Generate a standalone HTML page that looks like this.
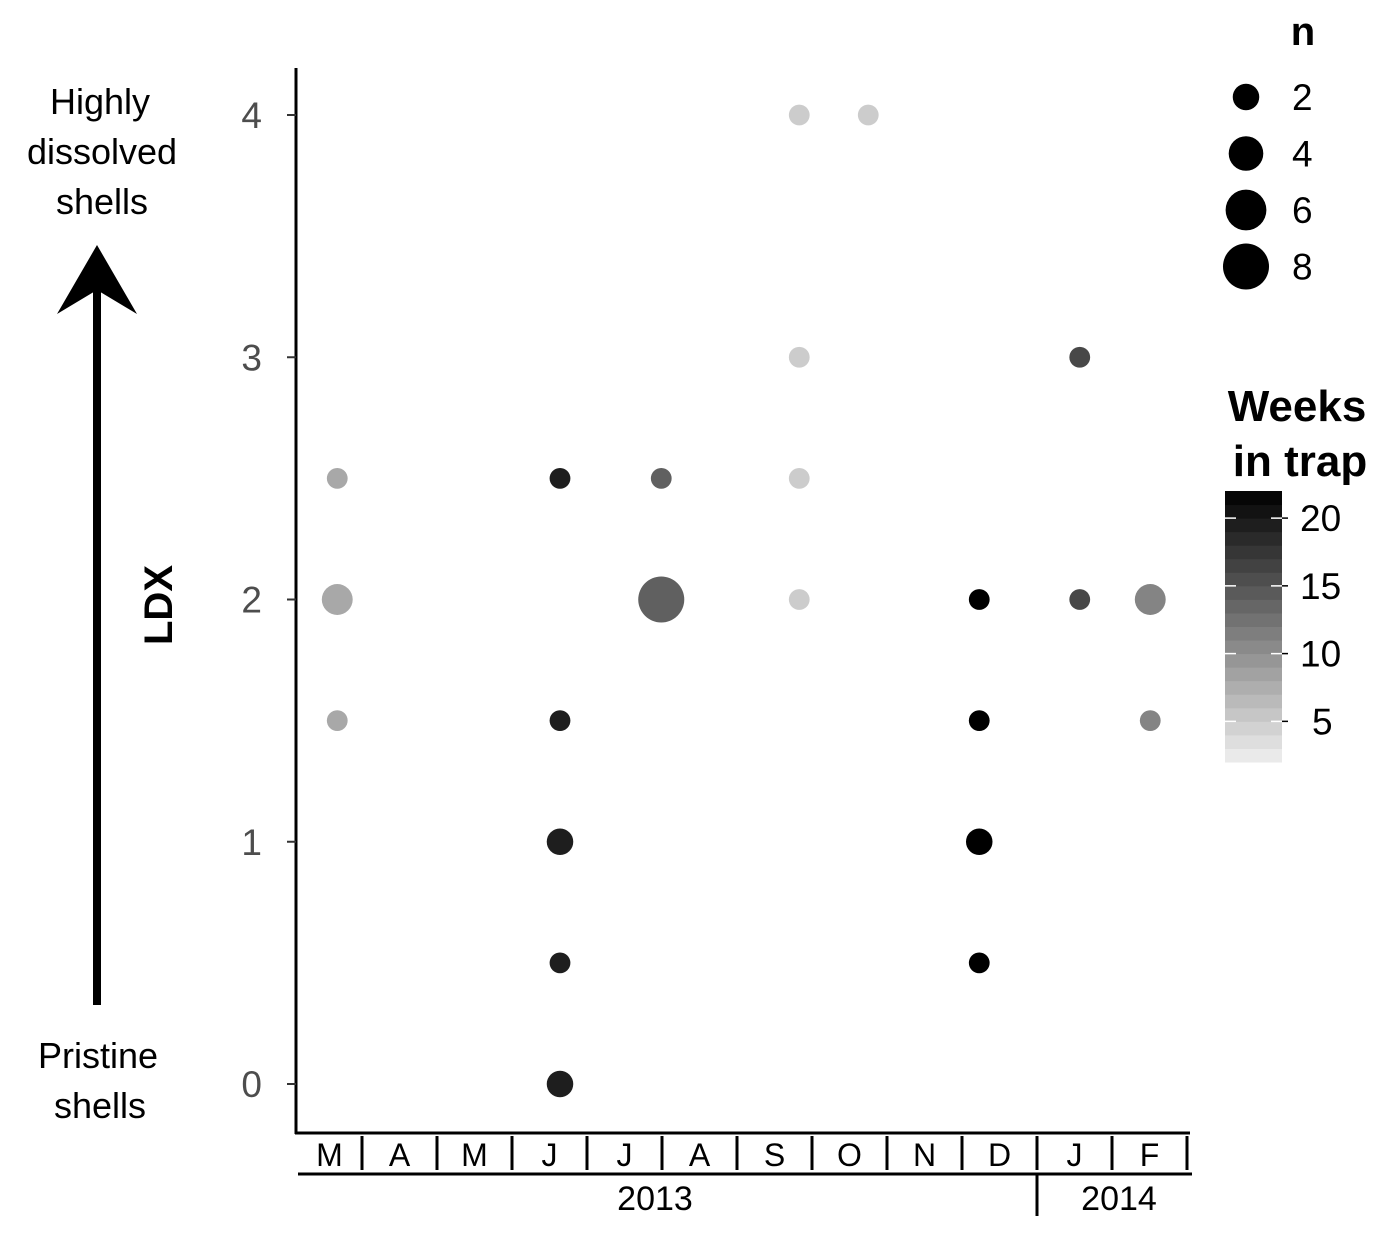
<!DOCTYPE html>
<html><head><meta charset="utf-8"><style>
body{margin:0;background:#fff}
svg{display:block}
text{font-family:"Liberation Sans",sans-serif}
</style></head><body>
<svg id="chart" width="1391" height="1244" viewBox="0 0 1391 1244" xmlns="http://www.w3.org/2000/svg">
<defs><marker id="ah" markerWidth="10" markerHeight="10" refX="5" refY="5" orient="auto"></marker></defs>
<g id="left-annot">
<text x="100" y="114" font-size="36" text-anchor="middle">Highly</text>
<text x="102" y="164" font-size="36" text-anchor="middle">dissolved</text>
<text x="102" y="214" font-size="36" text-anchor="middle">shells</text>
<line x1="97" y1="1005" x2="97" y2="290" stroke="#000" stroke-width="8"/>
<path d="M97 245 L137 314 L97 290 L57 314 Z" fill="#000"/>
<text x="98" y="1068" font-size="36" text-anchor="middle">Pristine</text>
<text x="100" y="1118" font-size="36" text-anchor="middle">shells</text>
<text transform="translate(172,605) rotate(-90)" font-size="40" font-weight="bold" text-anchor="middle">LDX</text>
</g>
<g id="axes"></g>
<g id="points"></g>
<g id="legend"></g>
</svg>
<script>
const yTicks=[0,1,2,3,4];
const months=["M","A","M","J","J","A","S","O","N","D","J","F"];
const years=["2013","2014"];
const ptMonth=[0.67,0.67,0.67,3.64,3.64,3.64,3.64,3.64,4.99,4.99,6.83,6.83,6.83,6.83,7.75,9.23,9.23,9.23,9.23,10.57,10.57,11.51,11.51];
const ptLdx  =[2.5,2,1.5,2.5,1.5,1,0.5,0,2.5,2,4,3,2.5,2,4,2,1.5,1,0.5,3,2,2,1.5];
const ptN    =[1,3,1,1,1,2,1,2,1,8,1,1,1,1,1,1,1,2,1,1,1,3,1];
const ptWeeks=[8,8,8,19.5,19.5,19.5,19.5,19.5,14,14,5,5,5,5,5,22,22,22,22,16,16,11,11];
const nLegend=[2,4,6,8];
const weekTicks=[5,10,15,20];

const NS="http://www.w3.org/2000/svg";
function el(tag,attrs,parent,txt){const e=document.createElementNS(NS,tag);for(const k in attrs)e.setAttribute(k,attrs[k]);if(txt!==undefined)e.textContent=txt;parent.appendChild(e);return e;}
const yS=v=>1084-v*242.25;
const xS=m=>287+m*75;
const rS=n=>3.5+6.9*Math.sqrt(n);
const gS=w=>{const g=Math.max(0,Math.min(240,Math.round(240-12*(w-2))));return `rgb(${g},${g},${g})`;};

const ax=document.getElementById('axes');
let l=el('line',{x1:296,y1:68,x2:296,y2:1134,stroke:'#000','stroke-width':3},ax);

l=el('line',{x1:295,y1:1133,x2:1190,y2:1133,stroke:'#000','stroke-width':3},ax);

yTicks.forEach(v=>{
  const t=el('line',{x1:287,y1:yS(v),x2:296,y2:yS(v),stroke:'#333','stroke-width':2},ax);
  
  const tx=el('text',{x:262,y:yS(v)+13,'font-size':37,fill:'#4d4d4d','text-anchor':'end'},ax,String(v));
  
});
months.forEach((m,i)=>{
  const tx=el('text',{x:xS(i+0.5)+(i===0?5:0),y:1166,'font-size':32,'text-anchor':'middle',transform:`scale(1,1)`},ax,m);
  
  const s=el('line',{x1:xS(i+1),y1:1136,x2:xS(i+1),y2:1170,stroke:'#000','stroke-width':3},ax);
  
});
l=el('line',{x1:298,y1:1174,x2:1192,y2:1174,stroke:'#000','stroke-width':3},ax);

l=el('line',{x1:xS(10),y1:1174,x2:xS(10),y2:1216,stroke:'#000','stroke-width':3},ax);

let yt=el('text',{x:655,y:1210,'font-size':34,'text-anchor':'middle'},ax,years[0]);

yt=el('text',{x:1119,y:1210,'font-size':34,'text-anchor':'middle'},ax,years[1]);


const pts=document.getElementById('points');
ptMonth.forEach((m,i)=>{
  const c=el('circle',{cx:xS(m),cy:yS(ptLdx[i]),r:rS(ptN[i]),fill:gS(ptWeeks[i])},pts);
  
});

const lg=document.getElementById('legend');
let t=el('text',{x:1303,y:45,'font-size':40,'font-weight':'bold','text-anchor':'middle'},lg,'n');

nLegend.forEach((n,i)=>{
  const cy=97+i*56.5;
  const c=el('circle',{cx:1246,cy:cy,r:rS(n),fill:'#000'},lg);
  
  const tt=el('text',{x:1292,y:cy+13,'font-size':37},lg,String(n));
  
});
t=el('text',{x:1297,y:421,'font-size':44,'font-weight':'bold','text-anchor':'middle'},lg,'Weeks');

t=el('text',{x:1300,y:476,'font-size':44,'font-weight':'bold','text-anchor':'middle'},lg,'in trap');

const cbTop=491,cbBot=762,wMin=2,wMax=22;
const cbY=w=>cbBot-(w-wMin)/(wMax-wMin)*(cbBot-cbTop);
for(let k=0;k<20;k++){
  const w0=wMin+k,w1=w0+1;
  const r=el('rect',{x:1225,y:cbY(w1),width:57,height:cbY(w0)-cbY(w1)+0.5,fill:gS(w0+0.5)},lg);
  
}
weekTicks.forEach(w=>{
  const y=cbY(w);
  let a=el('line',{x1:1225,y1:y,x2:1236,y2:y,stroke:'#fff','stroke-width':1.5},lg);
  
  a=el('line',{x1:1271,y1:y,x2:1288,y2:y,stroke:'#fff','stroke-width':1.5},lg);
  
  a=el('line',{x1:1282,y1:y,x2:1288,y2:y,stroke:'#000','stroke-width':1.5},lg);
  
  const tt=el('text',{x:w<10?1312:1300,y:y+13,'font-size':37},lg,String(w));
  
});
</script>
</body></html>
